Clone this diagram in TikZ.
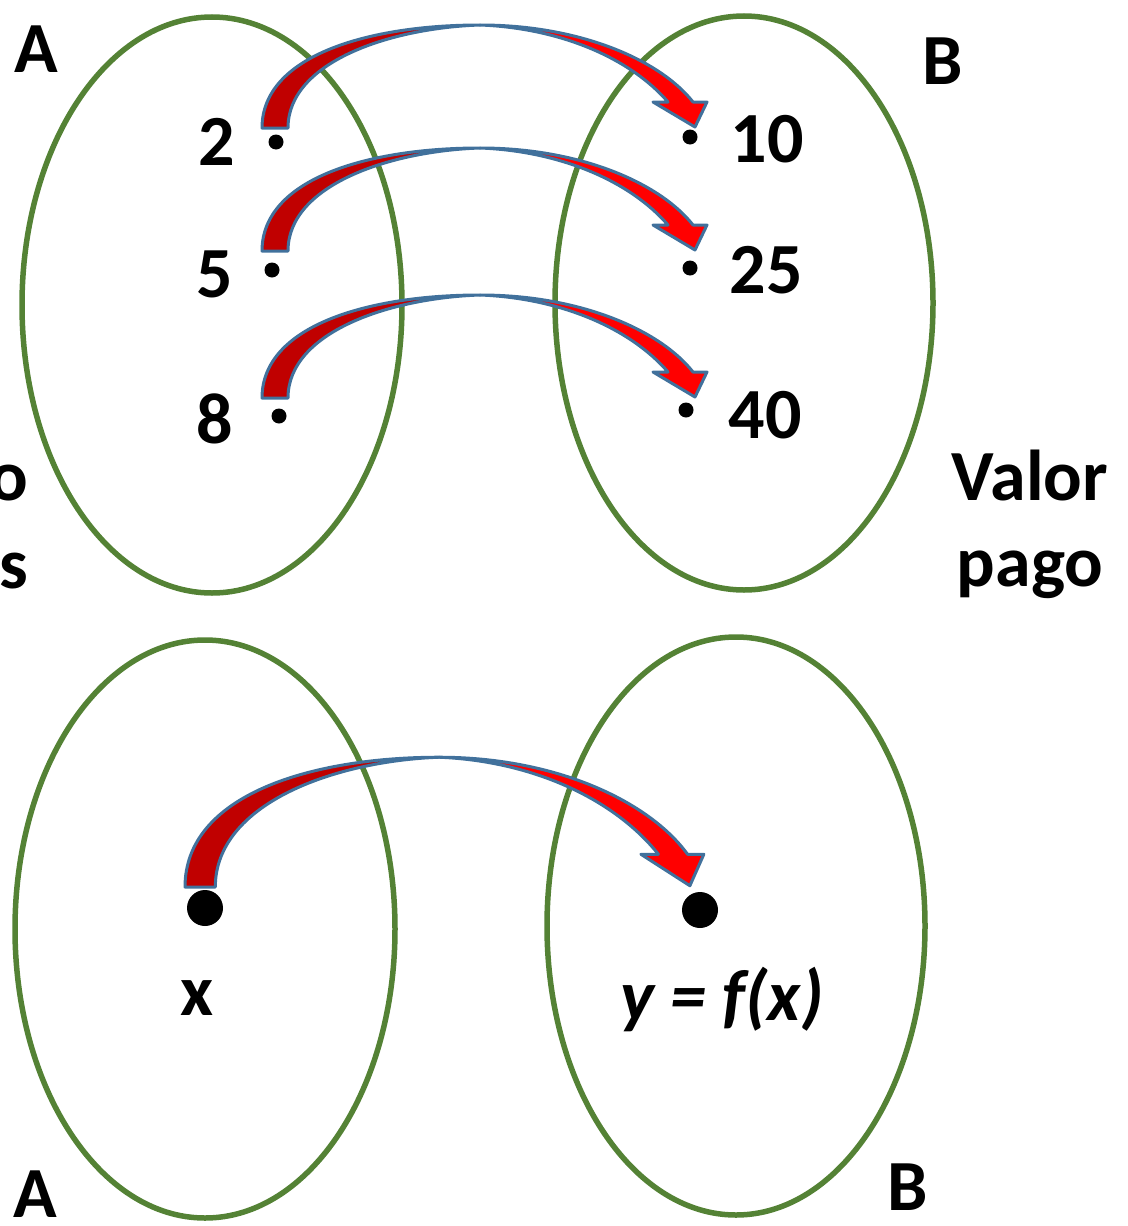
\documentclass[tikz,border=0pt]{standalone}
\usepackage{fontspec}
\setmainfont{Carlito}
\definecolor{setgreen}{HTML}{548235}
\definecolor{redDark}{HTML}{C00000}
\definecolor{redBright}{HTML}{FF0000}
\definecolor{rimblue}{HTML}{41719C}
\newcommand\ribbonarrow[1]{%
\begin{scope}[#1]
\filldraw[redA] (0,0) .. controls (0,-73) and (108,-103) .. (218,-103)
  .. controls (128,-100) and (26,-66) .. (26,0) -- cycle;
\filldraw[redB] (218,-103) .. controls (318,-103) and (398,-68) .. (431,-26)
  -- (445,-26) -- (433,-1) -- (391,-26) -- (406,-26)
  .. controls (368,-70) and (298,-100) .. (218,-103) -- cycle;
\end{scope}}
\begin{document}
\begin{tikzpicture}[x=1pt,y=-1pt,
  setline/.style={draw=setgreen,line width=5.5pt},
  redA/.style={fill=redDark,draw=rimblue,line width=3pt,line join=round},
  redB/.style={fill=redBright,draw=rimblue,line width=3pt,line join=round},
  lbl/.style={font=\fontsize{72}{86}\selectfont\bfseries,inner sep=0pt},
  dot/.style={circle,fill=black,inner sep=0pt,minimum size=15pt},
  bigdot/.style={circle,fill=black,inner sep=0pt,minimum size=36pt}]
\useasboundingbox (0,0) rectangle (1127,1226);
% sets
\draw[setline] (212,305) ellipse [x radius=190pt, y radius=288pt];
\draw[setline] (744,303) ellipse [x radius=189pt, y radius=287pt];
\draw[setline] (205,929) ellipse [x radius=190pt, y radius=289pt];
\draw[setline] (736,926) ellipse [x radius=189pt, y radius=289pt];
% arrows
\ribbonarrow{shift={(262,128)}}
\ribbonarrow{shift={(262,251)}}
\ribbonarrow{shift={(262,398)}}
\ribbonarrow{shift={(185,887)},xscale=1.166,yscale=1.26}
% dots
\node[dot] (a2) at (276,142) {};
\node[dot] (a5) at (272,270) {};
\node[dot] (a8) at (279,416) {};
\node[dot] (b10) at (690,137) {};
\node[dot] (b25) at (690,268) {};
\node[dot] (b40) at (686,410) {};
\node[bigdot] (ax) at (205,908) {};
\node[bigdot] (by) at (700,910) {};
% labels
\node[lbl,anchor=base west] (lA) at (14,72) {A};
\node[lbl,anchor=base west] (lB) at (922,84) {B};
\node[lbl,anchor=base] (n2) at (217,165) {2};
\node[lbl,anchor=base] (n5) at (215,297) {5};
\node[lbl,anchor=base] (n8) at (215,443) {8};
\node[lbl,anchor=base] (n10) at (767,162) {10};
\node[lbl,anchor=base] (n25) at (766,293) {25};
\node[lbl,anchor=base] (n40) at (765,438) {40};
\node[lbl,anchor=base] (valor) at (1030,500) {Valor};
\node[lbl,anchor=base] (pago) at (1030,586) {pago};
\node[lbl,anchor=base east] (co) at (28,500) {o};
\node[lbl,anchor=base east] (cs) at (28,588) {s};
\node[lbl,anchor=base] (lx) at (197,1015) {x};
\node[lbl,anchor=base,font=\fontsize{72}{86}\selectfont\bfseries\itshape] (ly) at (722,1020) {y = f(x)};
\node[lbl,anchor=base west] (lA2) at (13,1217) {A};
\node[lbl,anchor=base west] (lB2) at (887,1210) {B};
\end{tikzpicture}
\end{document}
